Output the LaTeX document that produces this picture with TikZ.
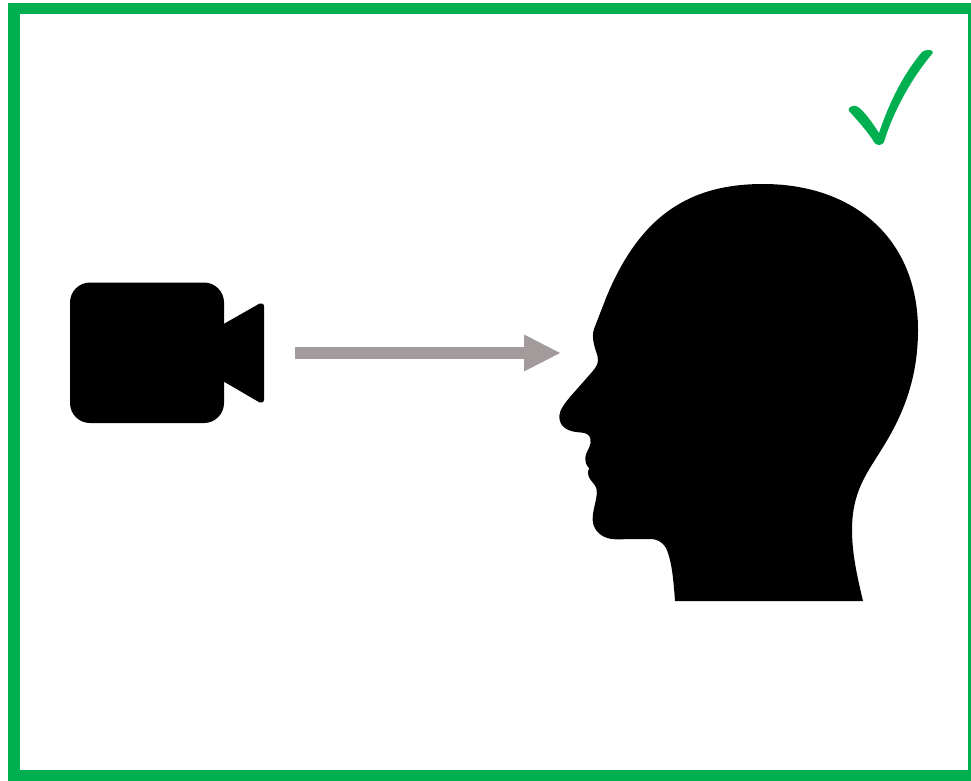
\documentclass[tikz,border=0pt]{standalone}
\usetikzlibrary{arrows.meta}
\definecolor{framegreen}{HTML}{00B050}
\definecolor{arrowgrey}{HTML}{A39A9C}
\tikzset{
  frameline/.style={draw=framegreen,line width=11.5pt},
  solidblack/.style={fill=black,draw=none},
  gazearrow/.style={draw=arrowgrey,line width=12pt,-{Triangle[length=37pt,width=34pt]}},
}
\begin{document}
\begin{tikzpicture}[x=1pt,y=-1pt]
\useasboundingbox (0,0) rectangle (971,781);
\clip (0,0) rectangle (971,781);
\fill[white] (0,0) rectangle (971,781);
% frame
\draw[frameline] (14,8.7) rectangle (974,775.5);
% camera
\fill[solidblack,rounded corners=20pt] (70,282.5) rectangle (224,423);
\fill[solidblack] (222,323.5) -- (224.5,323.5) -- (259.5,303.6)
  .. controls (261.5,302.5) and (264,303.5) .. (264,306.5)
  -- (264,399.5)
  .. controls (264,402.5) and (261.5,403.5) .. (259.5,402.4)
  -- (224.5,382) -- (222,382) -- cycle;
% arrow
\coordinate (gazestart) at (295,353);
\coordinate (gazeend) at (561,353);
\draw[gazearrow] (gazestart) -- (gazeend);
% head
\fill[solidblack] (675,601)
 .. controls (673.5,580) and (672,565) .. (668,553)
 .. controls (665,543) and (658,539) .. (650,539)
 -- (617,539.3)
 .. controls (608,539.5) and (600,536) .. (596,530)
 .. controls (587,518) and (599,500) .. (596.5,489)
 .. controls (595,482) and (585,479) .. (589,468)
 .. controls (583,462) and (585,455) .. (589,448)
 .. controls (592,442) and (592,433) .. (581,432.5)
 .. controls (568,432) and (559,427) .. (559.3,416)
 .. controls (559.5,410) and (565,403) .. (570,397)
 -- (592,372)
 .. controls (597,366) and (599,363) .. (597.5,356)
 .. controls (595,348) and (591,338) .. (594,329)
 -- (606,298)
 .. controls (640,215) and (690,184) .. (763,184)
 .. controls (855,184) and (918,240) .. (918,330)
 .. controls (918,375) and (905,412) .. (883,447)
 .. controls (868,472) and (852,490) .. (852,530)
 .. controls (852,555) and (858,580) .. (863,601)
 -- cycle;
% check mark
\fill[framegreen] (932,51)
 .. controls (930,49) and (925,50) .. (922,52)
 .. controls (905,72) and (890,100) .. (879,133)
 .. controls (872,122) and (862,108) .. (856,106)
 .. controls (852,105) and (847,108) .. (849,111)
 .. controls (858,121) and (868,132) .. (874,142)
 .. controls (876,146) and (882,146) .. (884,142)
 .. controls (892,115) and (910,80) .. (932,54)
 .. controls (933,53) and (933,52) .. (932,51)
 -- cycle;
\end{tikzpicture}
\end{document}
